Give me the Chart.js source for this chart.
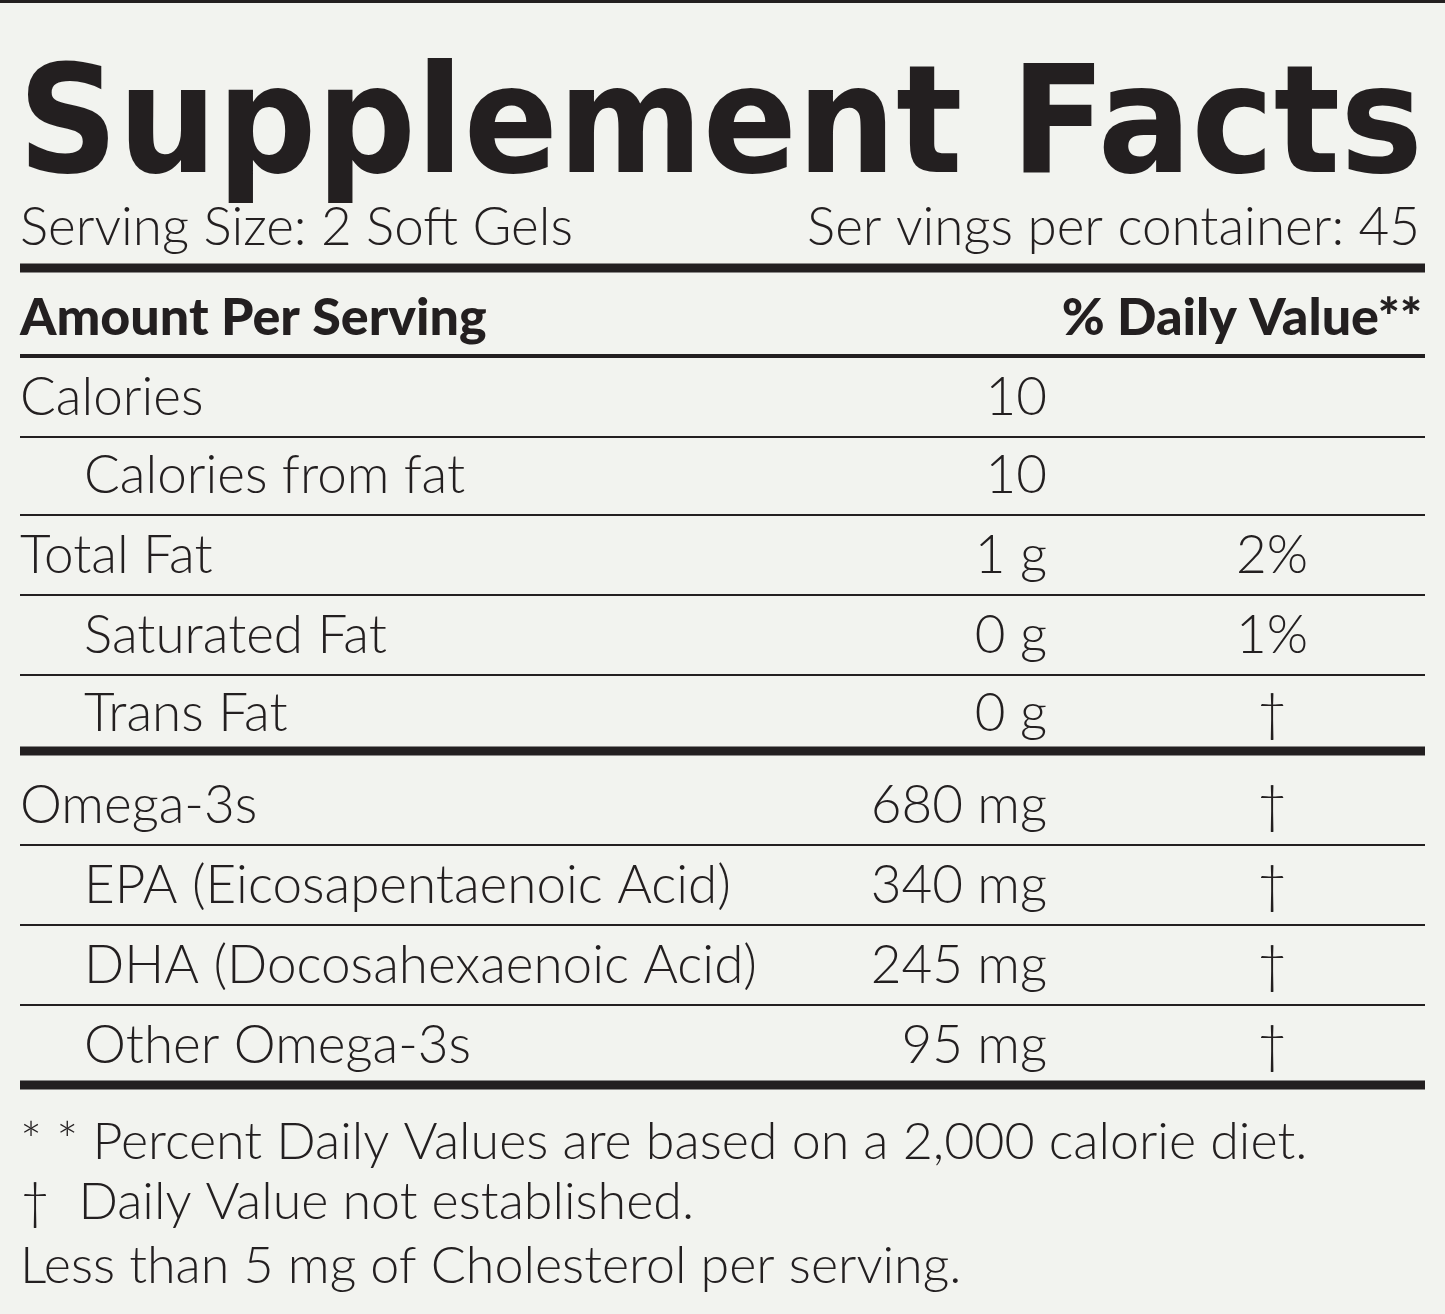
<!DOCTYPE html>
<html><head><meta charset="utf-8">
<script src="https://cdn.jsdelivr.net/npm/chart.js@4"></script>
<style>html,body{margin:0;padding:0;background:#f2f3ef}#w{width:1445px;height:1314px}</style>
</head><body><div id="w"><canvas id="c"></canvas></div>
<script>
const title = "Supplement Facts";
const servingSize = "Serving Size: 2 Soft Gels";
const servingsPer = "Ser vings per container: 45";
const headerLeft = "Amount Per Serving";
const headerRight = "% Daily Value**";
const nutrients = ["Calories","Calories from fat","Total Fat","Saturated Fat","Trans Fat","Omega-3s","EPA (Eicosapentaenoic Acid)","DHA (Docosahexaenoic Acid)","Other Omega-3s"];
const indent = [false,true,false,true,true,false,true,true,true];
const amounts = ["10","10","1 g","0 g","0 g","680 mg","340 mg","245 mg","95 mg"];
const dailyValues = ["","","2%","1%","†","†","†","†","†"];
const footnotes = ["* * Percent Daily Values are based on a 2,000 calorie diet.","†  Daily Value not established.","Less than 5 mg of Cholesterol per serving."];
const rowY = [398,476,556,636,714,806,886,966,1046];

const F = '"Lato", "Open Sans", sans-serif';
const labelPlugin = {
  id:'label',
  afterDraw(chart){
    const ctx = chart.ctx, xs = chart.scales.x, ys = chart.scales.y;
    const X = v=>xs.getPixelForValue(v), Y = v=>ys.getPixelForValue(v);
    ctx.save();
    ctx.fillStyle='#231f20';
    const line=(y,w)=>{ctx.fillRect(X(20),Y(y)-w/2,X(1425)-X(20),w);};
    // thin frame at top
    ctx.fillRect(X(0),Y(0),X(1445)-X(0),3);
    ctx.font='bold 150px "DejaVu Sans"'; ctx.textBaseline='alphabetic'; ctx.textAlign='left';
    const tw=ctx.measureText(title).width;
    ctx.save(); ctx.translate(X(18),Y(172)); ctx.scale(1405/tw,1); ctx.fillText(title,0,0); ctx.restore();
    ctx.textBaseline='middle';
    ctx.font='300 53px '+F;
    ctx.textAlign='left'; ctx.fillText(servingSize,X(20),Y(228));
    ctx.textAlign='right'; ctx.fillText(servingsPer,X(1420),Y(228));
    line(268,9);
    ctx.font='900 52px '+F;
    ctx.textAlign='left'; ctx.fillText(headerLeft,X(20),Y(318));
    ctx.textAlign='right'; ctx.fillText(headerRight,X(1422),Y(318));
    line(356,4);
    nutrients.forEach((n,i)=>{
      const y=rowY[i];
      ctx.font='300 53px '+F;
      ctx.textAlign='left'; ctx.fillText(n,X(indent[i]?84:20),Y(y));
      ctx.textAlign='right'; ctx.fillText(amounts[i],X(1047),Y(y));
      ctx.textAlign='center'; ctx.fillText(dailyValues[i],X(1272),Y(y));
      if(i===4) line(751,9);
      else if(i===8) line(1085,9);
      else line(y+39,2);
    });
    ctx.font='300 52px '+F; ctx.textAlign='left';
    [1142,1202,1266].forEach((y,i)=>ctx.fillText(footnotes[i],X(20),Y(y)));
    ctx.restore();
  }
};
new Chart(document.getElementById('c'),{
  type:'scatter',
  data:{datasets:[{data:[]}]},
  options:{responsive:true,maintainAspectRatio:false,animation:false,
    layout:{padding:0},
    plugins:{legend:{display:false},tooltip:{enabled:false}},
    scales:{x:{type:'linear',min:0,max:1445,display:false},
            y:{type:'linear',min:0,max:1314,reverse:true,display:false}}},
  plugins:[labelPlugin]
});
</script></body></html>
